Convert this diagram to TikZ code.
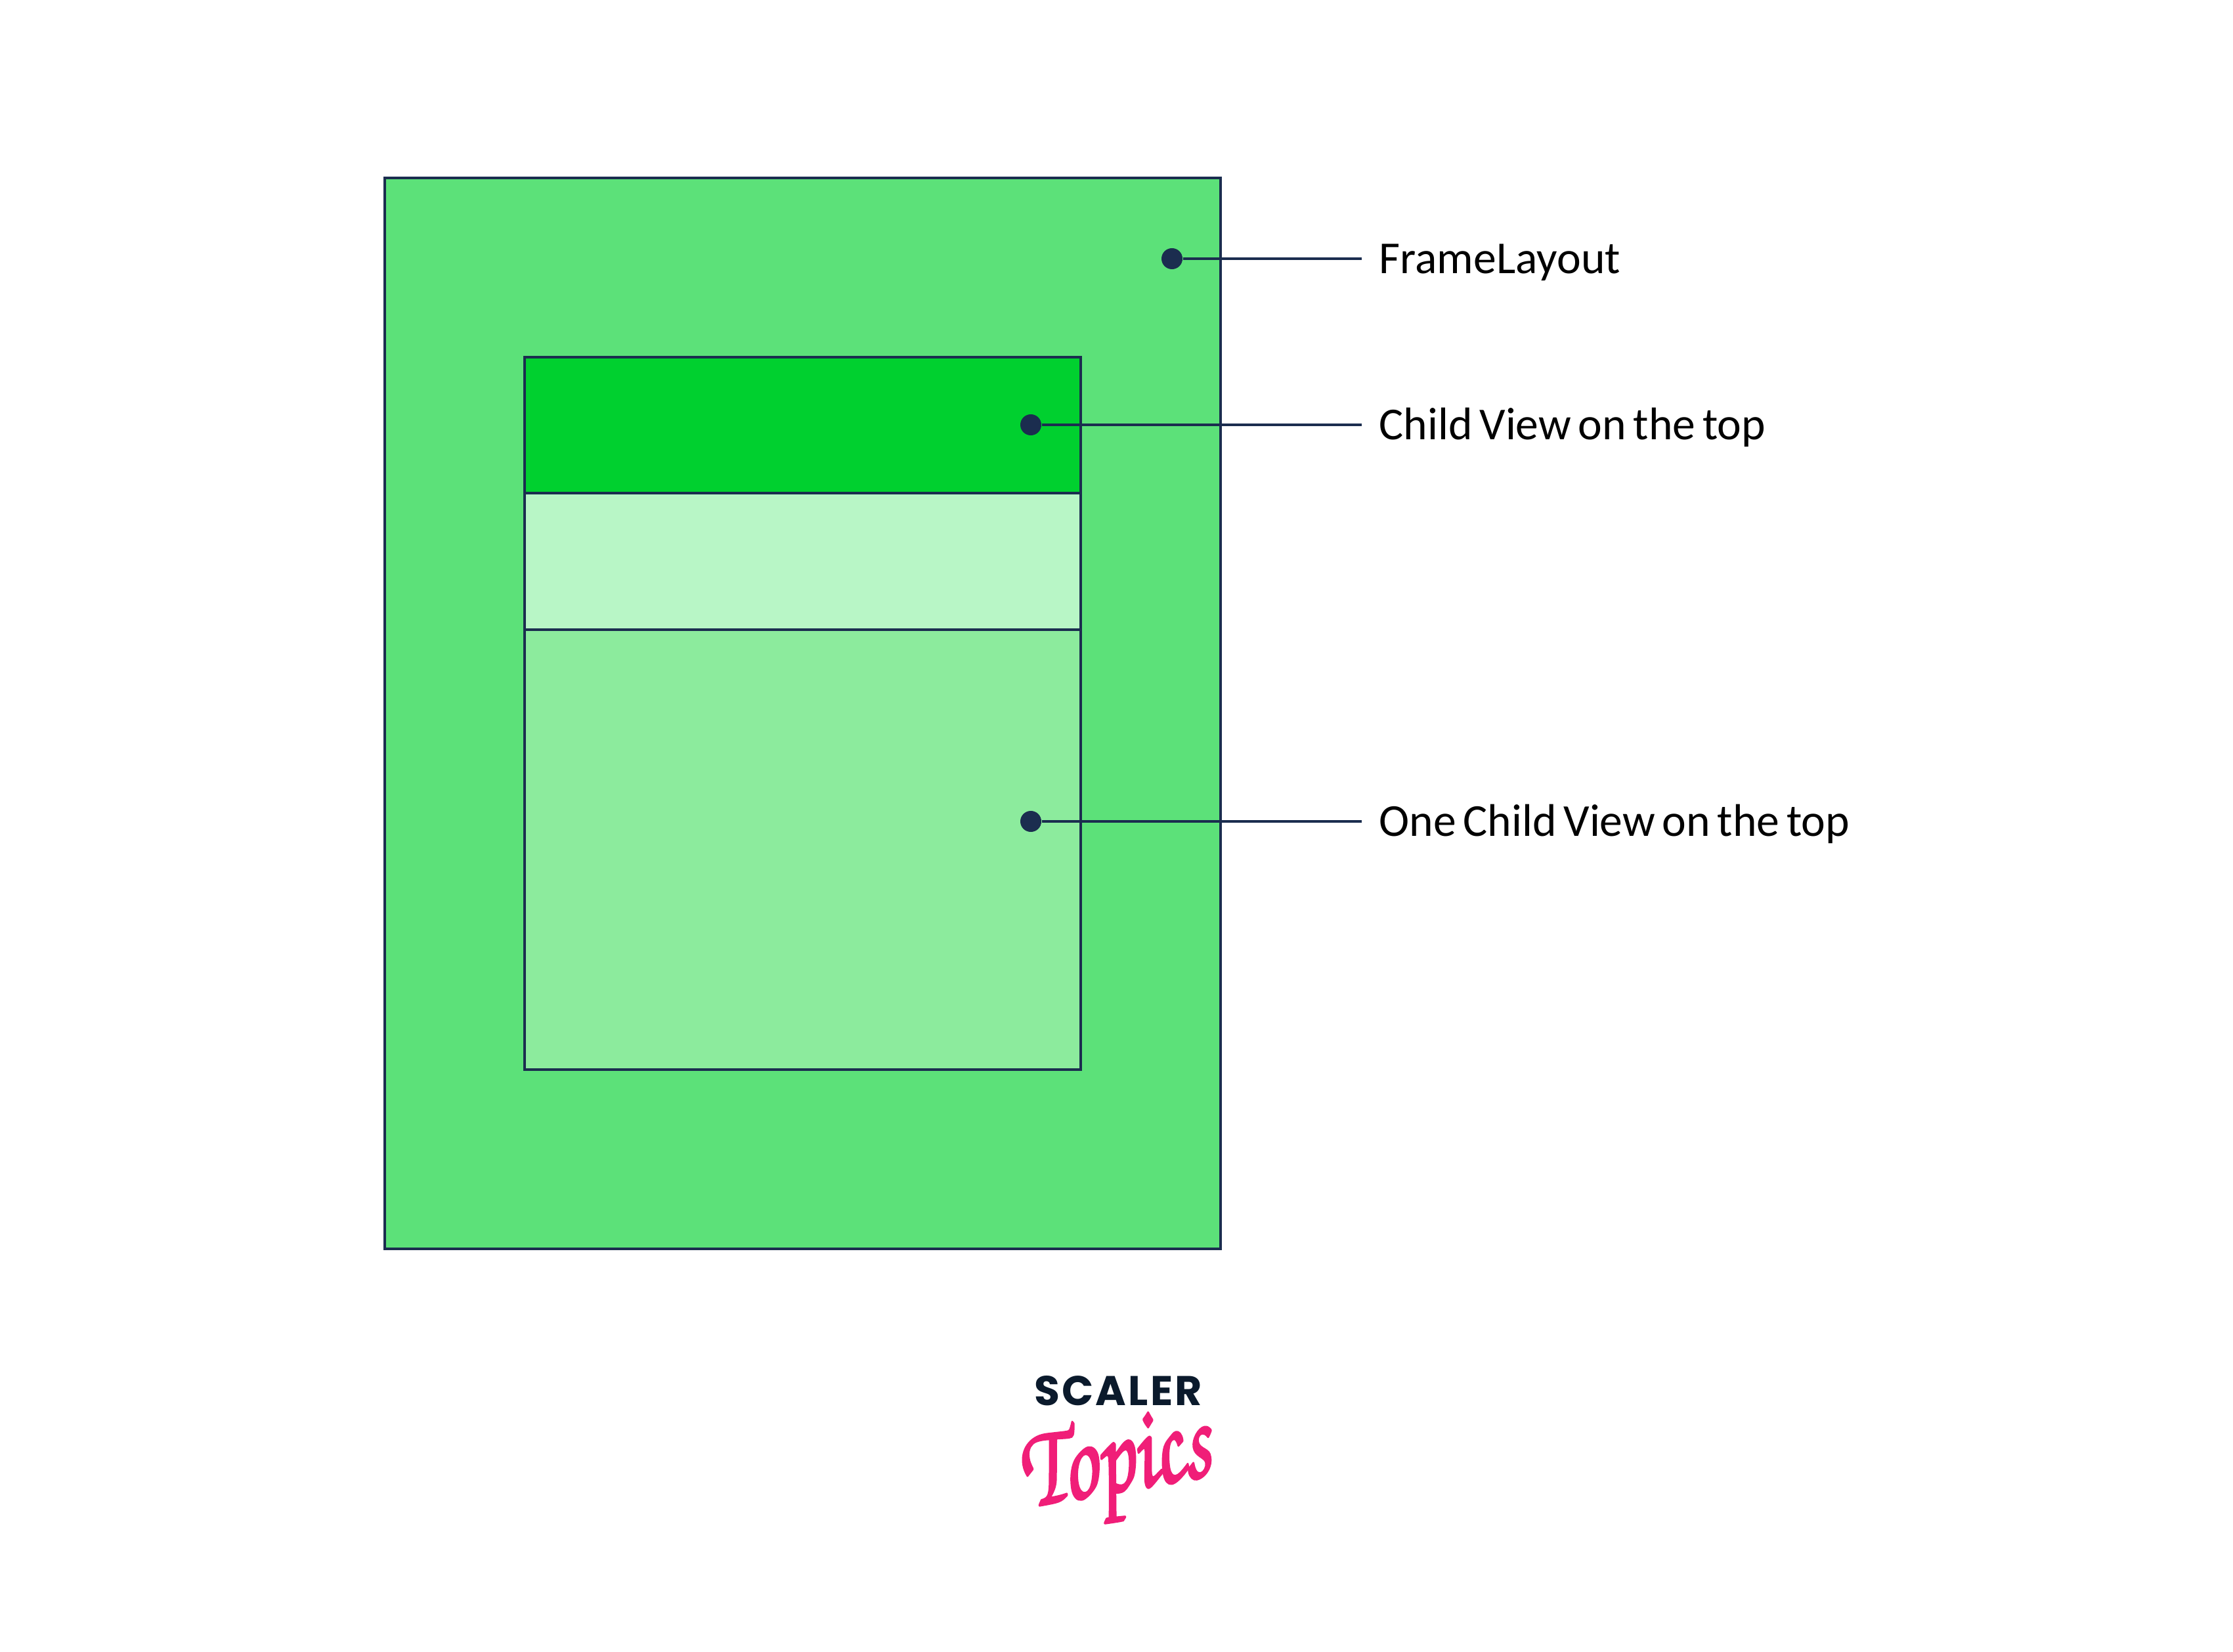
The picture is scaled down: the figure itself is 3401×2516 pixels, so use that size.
\documentclass[tikz,border=0pt]{standalone}
\usepackage[T1,TU]{fontenc}
\usepackage{fontspec}
\setmainfont[WordSpace=0.68]{Carlito}
\newfontfamily\logofont[LetterSpace=5]{Poppins}
\usetikzlibrary{positioning}
\definecolor{framegreen}{HTML}{5CE179}
\definecolor{topgreen}{HTML}{00D02F}
\definecolor{palegreen}{HTML}{B8F6C6}
\definecolor{midgreen}{HTML}{8CEB9D}
\definecolor{edgeblue}{HTML}{1B2D4F}
\definecolor{logonavy}{HTML}{0B1A2C}
\definecolor{logopink}{HTML}{F01E78}
\newcommand{\heavytext}[1]{\special{pdf:code q 2 Tr 1.1 w 1 j 1 J}#1\special{pdf:code Q}}
\tikzset{
    viewbox/.style={draw=edgeblue, line width=0.042cm},
    pindot/.style={circle, fill=edgeblue, inner sep=0pt, minimum size=0.32cm},
    pinline/.style={edgeblue, line width=0.042cm},
    pinlabel/.style={anchor=west, inner xsep=0.26cm, inner ysep=0pt, text height=0.50cm, text depth=0.06cm, font=\fontsize{19.8pt}{24pt}\selectfont}
}

\begin{document}
\begin{tikzpicture}[x=0.01cm, y=-0.01cm]
            \useasboundingbox (0,0) rectangle (3401,2516);
            \fill[white] (0,0) rectangle (3401,2516);

            \draw[viewbox, fill=framegreen] (586,271) rectangle (1859,1902);
            \draw[viewbox, fill=topgreen] (799,544) rectangle (1646,751);
            \draw[viewbox, fill=palegreen] (799,751) rectangle (1646,959);
            \draw[viewbox, fill=midgreen] (799,959) rectangle (1646,1629);

            \foreach \n/\x/\y/\t in {frame/1785/394/FrameLayout, top/1570/647/Child View on the top, one/1570/1251/One Child View on the top} {
                \node[pindot] (\n dot) at (\x,\y) {};
                \node[pinlabel] (\n label) at (2074,\y) {\t};
                \draw[pinline] (\n dot) -- (\n label.west);
            }

            \node[logonavy, inner sep=0pt, font=\logofont\bfseries\fontsize{18pt}{20pt}\selectfont] (scaler) at (1703,2118) {SCALER};
            \node[logopink, inner sep=0pt, rotate=10, font=\usefont{T1}{pzc}{m}{it}\fontsize{51pt}{60pt}\selectfont] (topics) at (1700,2240) {\scalebox{0.73}[1]{\heavytext{Topics}}};
        \end{tikzpicture}
\end{document}
